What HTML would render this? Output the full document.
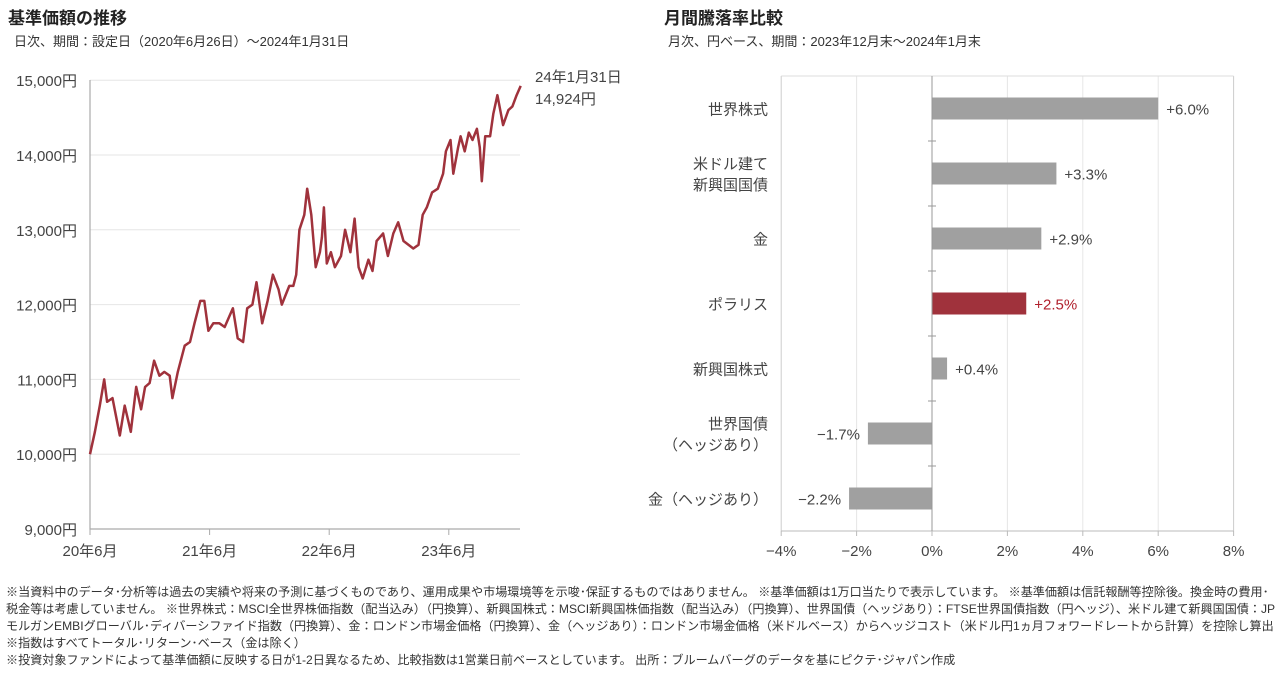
<!DOCTYPE html>
<html><head><meta charset="utf-8"><style>
body{margin:0;background:#fff;width:1280px;height:673px;overflow:hidden;font-family:"Liberation Sans","Noto Sans CJK JP",sans-serif;color:#333;position:relative}
.t{position:absolute;white-space:nowrap}
.h{font-size:17px;font-weight:bold;color:#222}
.s{font-size:13px;color:#333}
.note{position:absolute;left:6px;top:584px;width:1272px;font-size:12.1px;line-height:17px;color:#333}
svg text{font-family:"Liberation Sans","Noto Sans CJK JP",sans-serif}
</style></head><body>
<div class="t h" style="left:8px;top:4px">基準価額の推移</div>
<div class="t s" style="left:14px;top:31px">日次、期間：設定日（2020年6月26日）～2024年1月31日</div>
<div class="t h" style="left:664px;top:4px">月間騰落率比較</div>
<div class="t s" style="left:668px;top:31px">月次、円ベース、期間：2023年12月末～2024年1月末</div>
<svg id="line" width="640" height="580" style="position:absolute;left:0;top:0"></svg>
<svg id="bar" width="640" height="580" style="position:absolute;left:640px;top:0"></svg>
<div class="note">※当資料中のデータ･分析等は過去の実績や将来の予測に基づくものであり、運用成果や市場環境等を示唆･保証するものではありません。 ※基準価額は1万口当たりで表示しています。 ※基準価額は信託報酬等控除後。換金時の費用･税金等は考慮していません。 ※世界株式：MSCI全世界株価指数（配当込み）（円換算）、新興国株式：MSCI新興国株価指数（配当込み）（円換算）、世界国債（ヘッジあり）：FTSE世界国債指数（円ヘッジ）、米ドル建て新興国国債：JPモルガンEMBIグローバル･ディバーシファイド指数（円換算）、金：ロンドン市場金価格（円換算）、金（ヘッジあり）：ロンドン市場金価格（米ドルベース）からヘッジコスト（米ドル円1ヵ月フォワードレートから計算）を控除し算出 ※指数はすべてトータル･リターン･ベース（金は除く）<br>※投資対象ファンドによって基準価額に反映する日が1-2日異なるため、比較指数は1営業日前ベースとしています。 出所：ブルームバーグのデータを基にピクテ･ジャパン作成</div>
<script>
// line chart data: t = years since 2020-06-26
const lineT=[0,0.041,0.082,0.119,0.143,0.188,0.249,0.290,0.341,0.386,0.427,0.461,0.498,0.536,0.580,0.621,0.666,0.689,0.734,0.792,0.836,0.874,0.922,0.956,0.990,1.031,1.082,1.126,1.167,1.195,1.235,1.280,1.314,1.358,1.392,1.440,1.485,1.529,1.577,1.604,1.666,1.700,1.724,1.751,1.792,1.816,1.850,1.887,1.922,1.939,1.956,1.980,2.014,2.048,2.099,2.133,2.177,2.212,2.246,2.280,2.328,2.362,2.396,2.451,2.491,2.536,2.577,2.621,2.662,2.703,2.747,2.782,2.816,2.860,2.908,2.952,2.976,3.014,3.038,3.078,3.099,3.133,3.167,3.198,3.235,3.259,3.276,3.304,3.345,3.372,3.406,3.454,3.498,3.532,3.567,3.601];
const lineV=[10000,10300,10650,11000,10700,10750,10250,10650,10300,10900,10600,10900,10950,11250,11050,11100,11050,10750,11100,11450,11500,11750,12050,12050,11650,11750,11750,11700,11850,11950,11550,11500,11950,12000,12300,11750,12050,12400,12200,12000,12250,12250,12400,13000,13200,13550,13200,12500,12700,12900,13300,12550,12700,12500,12650,13000,12700,13150,12500,12350,12600,12450,12850,12950,12650,12950,13100,12850,12800,12750,12800,13200,13300,13500,13550,13750,14050,14200,13750,14100,14250,14050,14300,14200,14350,14100,13650,14250,14250,14550,14800,14400,14600,14650,14800,14924];
const yTicks=[9000,10000,11000,12000,13000,14000,15000];
const yTickLabels=["9,000円","10,000円","11,000円","12,000円","13,000円","14,000円","15,000円"];
const xTicks=[0,1,2,3];
const xTickLabels=["20年6月","21年6月","22年6月","23年6月"];
// bar chart data
const cats=[["世界株式"],["米ドル建て","新興国国債"],["金"],["ポラリス"],["新興国株式"],["世界国債","（ヘッジあり）"],["金（ヘッジあり）"]];
const vals=[6.0,3.3,2.9,2.5,0.4,-1.7,-2.2];
const valLabels=["+6.0%","+3.3%","+2.9%","+2.5%","+0.4%","−1.7%","−2.2%"];
const highlight=[false,false,false,true,false,false,false];
const pctTicks=[-4,-2,0,2,4,6,8];
const pctLabels=["−4%","−2%","0%","2%","4%","6%","8%"];

const NS="http://www.w3.org/2000/svg";
function mk(p,tag,a){const e=document.createElementNS(NS,tag);for(const k in a)e.setAttribute(k,a[k]);p.appendChild(e);return e;}

// ---- line chart
const L=document.getElementById('line');
const lx=t=>90+t*119.6, ly=v=>529-(v-9000)*0.0748;
yTicks.forEach((v,i)=>{
  if(v>9000){const g=mk(L,'line',{x1:90,x2:520,y1:ly(v),y2:ly(v),stroke:'#e6e6e6','stroke-width':1});
  
  }
  const tx=mk(L,'text',{x:77,y:ly(v)+6,'text-anchor':'end','font-size':15,fill:'#444'});tx.textContent=yTickLabels[i];
  
  
});
const ax=mk(L,'path',{d:'M90,80V529H520',fill:'none',stroke:'#aaa','stroke-width':1.2});


xTicks.forEach((t,i)=>{
  mk(L,'line',{x1:lx(t),x2:lx(t),y1:529,y2:535,stroke:'#aaa'});
  const tx=mk(L,'text',{x:lx(t),y:556,'text-anchor':'middle','font-size':15,fill:'#444'});tx.textContent=xTickLabels[i];
  
  
});
const pl=mk(L,'polyline',{points:lineT.map((t,i)=>lx(t).toFixed(1)+','+ly(lineV[i]).toFixed(1)).join(' '),fill:'none',stroke:'#a0323c','stroke-width':2.5,'stroke-linejoin':'round'});


const a1=mk(L,'text',{x:535,y:82,'font-size':15,fill:'#444'});a1.textContent='24年1月31日';


const a2=mk(L,'text',{x:535,y:104,'font-size':15,fill:'#444'});a2.textContent=lineV[lineV.length-1].toLocaleString('en-US')+'円';



// ---- bar chart
const B=document.getElementById('bar');
const bx=p=>292+p*37.7; const plotTop=76, band=65;
pctTicks.forEach((p,i)=>{
  const g=mk(B,'line',{x1:bx(p),x2:bx(p),y1:plotTop,y2:531,stroke:p===-4||p===8?'#ccc':'#e6e6e6'});
  
  
  const tx=mk(B,'text',{x:bx(p),y:556,'text-anchor':'middle','font-size':15,fill:'#444'});tx.textContent=pctLabels[i];
  
  
});
mk(B,'line',{x1:bx(-4),x2:bx(8),y1:plotTop,y2:plotTop,stroke:'#ddd'});
mk(B,'line',{x1:bx(-4),x2:bx(8),y1:531,y2:531,stroke:'#bbb'});
pctTicks.forEach(p=>mk(B,'line',{x1:bx(p),x2:bx(p),y1:531,y2:536,stroke:'#bbb'}));
vals.forEach((v,i)=>{
  const cy=plotTop+band*(i+0.5);
  const x0=Math.min(bx(0),bx(v)), w=Math.abs(bx(v)-bx(0));
  const r=mk(B,'rect',{x:x0,y:cy-11,width:w,height:22,fill:highlight[i]?'#a0323c':'#a0a0a0'});
  
  
  const vl=mk(B,'text',{x:v>=0?bx(v)+8:bx(v)-8,y:cy+6,'text-anchor':v>=0?'start':'end','font-size':15,fill:highlight[i]?'#b0202c':'#444'});
  vl.textContent=valLabels[i];
  
  
  const lines=cats[i];
  lines.forEach((s,j)=>{
    const c=mk(B,'text',{x:128,y:cy+6+(j-(lines.length-1)/2)*21,'text-anchor':'end','font-size':15,fill:'#444'});
    c.textContent=s;
    
    
  });
  if(i>0) mk(B,'line',{x1:bx(0)-4,x2:bx(0)+4,y1:plotTop+band*i,y2:plotTop+band*i,stroke:'#999'});
});
const z=mk(B,'line',{x1:bx(0),x2:bx(0),y1:plotTop,y2:531,stroke:'#999'});


</script>
</body></html>
